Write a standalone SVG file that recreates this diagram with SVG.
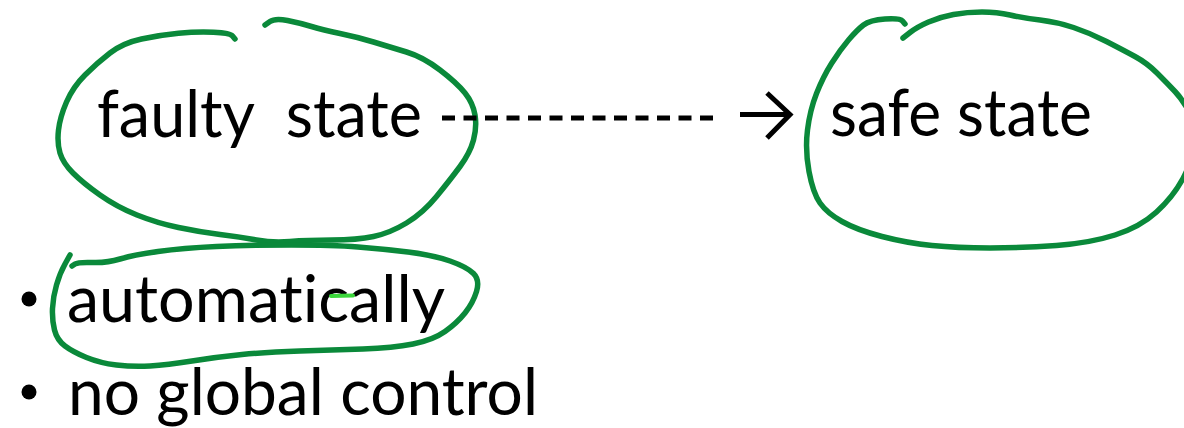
<svg xmlns="http://www.w3.org/2000/svg" width="1184" height="428" viewBox="0 0 1184 428">
  <style>
    .label { font-family: Lato, "Open Sans", "Liberation Sans", sans-serif; font-size: 66px; fill: #000; white-space: pre; font-variant-ligatures: none; font-feature-settings: "liga" 0, "clig" 0; }
    .ink { fill: none; stroke: #0a893a; stroke-width: 5.5; stroke-linecap: round; stroke-linejoin: round; }
    .conn { fill: none; stroke: #000; stroke-width: 5; }
  </style>
  <rect width="1184" height="428" fill="#fff"/>

  <!-- faulty state -->
  <g id="node-faulty">
    <text class="label" x="97" y="137" textLength="325" lengthAdjust="spacingAndGlyphs" xml:space="preserve">faulty  state</text>
    <path class="ink" d="M235,39 L232.5,36 Q230,33 213.5,32.25 Q197,31.5 178.5,33.25 Q160,35 141.5,39 Q123,43 110,53 Q97,63 85,75 Q73,87 66.5,102 Q60,117 58.5,130 Q57,143 60,153 Q63,163 73,173 Q83,183 100,195 Q117,207 137,215 Q157,223 178.5,227.5 Q200,232 220,234.5 Q240,237 256.5,240 Q273,243 290,241.5 Q307,240 332,240 Q357,240 373.5,236.5 Q390,233 406.5,223 Q423,213 436.5,196.5 Q450,180 460,166.5 Q470,153 473.5,140 Q477,127 475,115 Q473,103 465,93 Q457,83 440,70 Q423,57 406.5,52 Q390,47 373.5,42 Q357,37 340,33.5 Q323,30 311.5,26.5 Q300,23 287.5,20.5 Q275,18 270,21.5 L265,25"/>
  </g>

  <!-- safe state -->
  <g id="node-safe">
    <text class="label" x="830" y="136" textLength="262" lengthAdjust="spacingAndGlyphs">safe state</text>
    <path class="ink" d="M905,24 L902.5,21 Q900,18 885,19 Q870,20 863.5,25 Q857,30 848.5,40 Q840,50 831.5,63.5 Q823,77 816.5,93.5 Q810,110 807.5,130 Q805,150 809,171.5 Q813,193 820,203 Q827,213 842,221.5 Q857,230 882,236.5 Q907,243 932,245.5 Q957,248 990,248 Q1023,248 1056.5,245.5 Q1090,243 1115,235 Q1140,227 1156.5,212 Q1173,197 1183,178.5 Q1193,160 1194.5,142.5 Q1196,125 1189.5,112.5 Q1183,100 1175,91.5 Q1167,83 1157,73 Q1147,63 1135,56.5 Q1123,50 1106.5,41.5 Q1090,33 1073.5,27.5 Q1057,22 1040,20 Q1023,18 1010,15 Q997,12 982,12 Q967,12 953.5,14.5 Q940,17 928.5,22 Q917,27 910,32.5 L903,38"/>
  </g>

  <!-- transition: dashed run and arrow -->
  <g id="connectors">
    <line class="conn" x1="442" y1="118" x2="713" y2="118" stroke-dasharray="13 8.5"/>
    <line class="conn" x1="740" y1="114.5" x2="789" y2="114.5"/>
    <polyline class="conn" points="767,93 790,114.5 767,138" stroke-linejoin="miter"/>
  </g>

  <!-- bullet: automatically -->
  <g id="node-automatically">
    <circle cx="29" cy="299" r="7.5" fill="#000"/>
    <text class="label" x="67" y="322" textLength="378" lengthAdjust="spacingAndGlyphs">automatically</text>
    <path class="ink" d="M70,255 L65,264 Q60,273 56.5,285 Q53,297 52.5,308.5 Q52,320 54.5,330 Q57,340 65,346 Q73,352 86.5,357.5 Q100,363 116.5,365 Q133,367 150,366 Q167,365 192,361 Q217,357 242,354.5 Q267,352 300,351 Q333,350 363,349 Q393,348 413,344 Q433,340 445,331.5 Q457,323 465,313 Q473,303 476.5,291.5 Q480,280 473.5,273.5 Q467,267 450,261 Q433,255 408,252 Q383,249 358,247 Q333,245 291.5,245 Q250,245 216.5,246.5 Q183,248 158,251.5 Q133,255 120,259 Q107,263 92.5,262.5 Q78,262 75,264 L72,266"/>
    <line x1="331" y1="296" x2="353" y2="295.5" stroke="#3ad63a" stroke-width="4" stroke-linecap="round"/>
  </g>

  <!-- bullet: no global control -->
  <g id="node-control">
    <circle cx="29" cy="392" r="7.5" fill="#000"/>
    <text class="label" x="68" y="415" textLength="470" lengthAdjust="spacingAndGlyphs">no global control</text>
  </g>
</svg>
